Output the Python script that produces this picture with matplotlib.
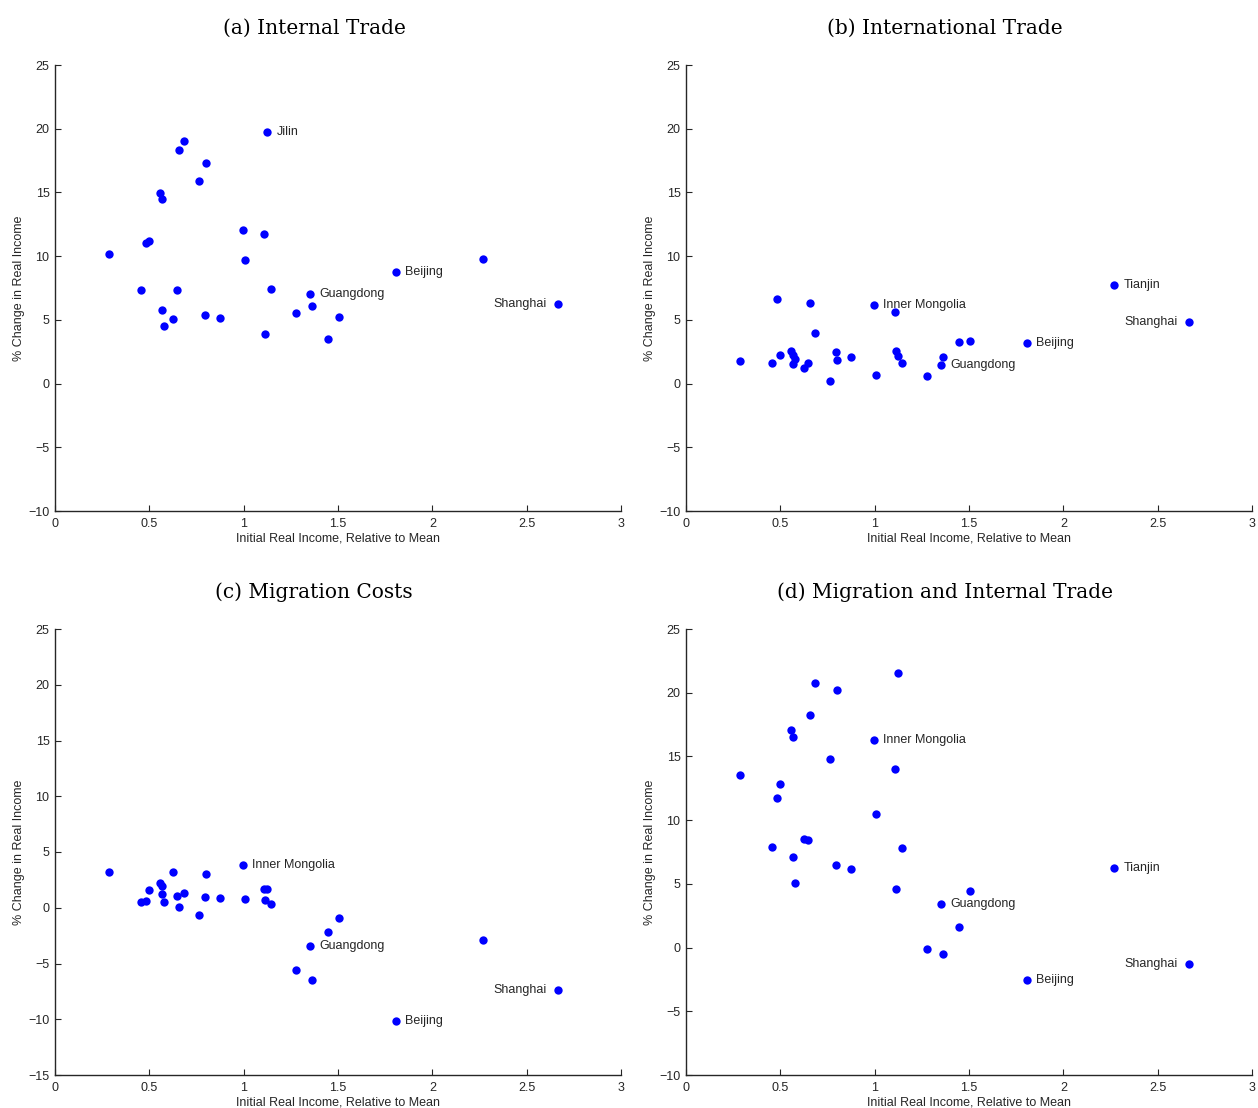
import matplotlib
matplotlib.use("Agg")
import matplotlib.pyplot as plt
import numpy as np

plt.rcParams['font.family'] = ['Liberation Sans', 'DejaVu Sans']

# initial real income relative to mean (same provinces in every panel)
income = np.array([0.284, 0.454, 0.481, 0.497, 0.555, 0.565, 0.567, 0.577, 0.624, 0.647,
                   0.655, 0.683, 0.765, 0.795, 0.798, 0.875, 0.995, 1.008, 1.108, 1.112,
                   1.124, 1.146, 1.277, 1.351, 1.362, 1.446, 1.506, 1.806, 2.270, 2.667])

province = ['', '', '', '', '', '', '', '', '', '',
            '', '', '', '', '', '', 'Inner Mongolia', '', '', '',
            'Jilin', '', '', 'Guangdong', '', '', '', 'Beijing', 'Tianjin', 'Shanghai']

# % change in real income
internal = [10.16, 7.34, 11.07, 11.15, 14.93, 14.49, 5.77, 4.49, 5.07, 7.31,
            18.33, 19.03, 15.90, 5.38, 17.28, 5.17, 12.06, 9.66, 11.72, 3.89,
            19.77, 7.39, 5.51, 7.02, 6.06, 3.48, 5.25, 8.79, 9.80, 6.22]
international = [1.78, 1.63, 6.64, 2.26, 2.57, 2.23, 1.57, 1.92, 1.23, 1.63,
                 6.33, 3.94, 0.18, 2.49, 1.86, 2.10, 6.17, 0.71, 5.62, 2.52,
                 2.13, 1.63, 0.60, 1.47, 2.10, 3.25, 3.36, 3.18, 7.74, 4.86]
migration = [3.23, 0.51, 0.60, 1.56, 2.22, 1.95, 1.23, 0.54, 3.20, 1.08,
             0.06, 1.35, -0.66, 0.99, 3.02, 0.90, 3.86, 0.78, 1.68, 0.69,
             1.65, 0.33, -5.54, -3.44, -6.50, -2.16, -0.96, -10.18, -2.93, -7.37]
both = [13.52, 7.90, 11.74, 12.81, 17.05, 16.52, 7.08, 5.07, 8.52, 8.44,
        18.27, 20.78, 14.82, 6.48, 20.24, 6.14, 16.29, 10.51, 14.01, 4.63,
        21.57, 7.79, -0.10, 3.45, -0.52, 1.60, 4.42, -2.57, 6.22, -1.31]

titles = ['(a) Internal Trade', '(b) International Trade',
          '(c) Migration Costs', '(d) Migration and Internal Trade']
series = [internal, international, migration, both]
labelled = [['Jilin', 'Guangdong', 'Beijing', 'Shanghai'],
            ['Inner Mongolia', 'Guangdong', 'Beijing', 'Tianjin', 'Shanghai'],
            ['Inner Mongolia', 'Guangdong', 'Beijing', 'Shanghai'],
            ['Inner Mongolia', 'Guangdong', 'Beijing', 'Tianjin', 'Shanghai']]
ylims = [(-10, 25), (-10, 25), (-15, 25), (-10, 25)]
xticks = [0, 0.5, 1, 1.5, 2, 2.5, 3]
xticklabels = ['0', '0.5', '1', '1.5', '2', '2.5', '3']

W, H = 1258, 1108
fig = plt.figure(figsize=(W / 100, H / 100), dpi=100)

# axes boxes in pixels: left, top, right, bottom
boxes = [(55, 65, 621, 511), (686, 65, 1252, 511),
         (55, 629, 621, 1075), (686, 629, 1252, 1075)]

ink = '#262626'
for k in range(4):
    l, t, r, b = boxes[k]
    ax = fig.add_axes([l / W, 1 - b / H, (r - l) / W, (b - t) / H])
    ax.plot(income, series[k], 'o', color='#0000ff', markersize=6,
            markeredgewidth=0, clip_on=False)
    for i, name in enumerate(province):
        if name in labelled[k]:
            if name == 'Shanghai':
                ax.annotate(name, (income[i], series[k][i]), xytext=(-8, 0),
                            textcoords='offset points', ha='right', va='center',
                            fontsize=9, color=ink)
            else:
                ax.annotate(name, (income[i], series[k][i]), xytext=(7, 0),
                            textcoords='offset points', ha='left', va='center',
                            fontsize=9, color=ink)
    ax.set_xlim(0, 3)
    ax.set_ylim(*ylims[k])
    ax.set_xticks(xticks)
    ax.set_xticklabels(xticklabels)
    ax.set_yticks(np.arange(ylims[k][0], 26, 5))
    ax.spines['top'].set_visible(False)
    ax.spines['right'].set_visible(False)
    for s in ['left', 'bottom']:
        ax.spines[s].set_color(ink)
        ax.spines[s].set_linewidth(1.0)
    ax.tick_params(direction='in', length=4, width=0.8, colors=ink,
                   labelsize=9)
    ax.tick_params(axis='x', pad=5)
    ax.tick_params(axis='y', pad=4)
    ax.set_xlabel('Initial Real Income, Relative to Mean', fontsize=9,
                  color=ink, labelpad=2)
    ax.set_ylabel('% Change in Real Income', fontsize=9, color=ink, labelpad=2)
    # title sits a bit left of the axes centre, as in the source figure
    ax.set_title(titles[k], family='DejaVu Serif', fontsize=14.5, color='black',
                 pad=22.5, x=0.4576)

fig.savefig('out.png', dpi=100)
